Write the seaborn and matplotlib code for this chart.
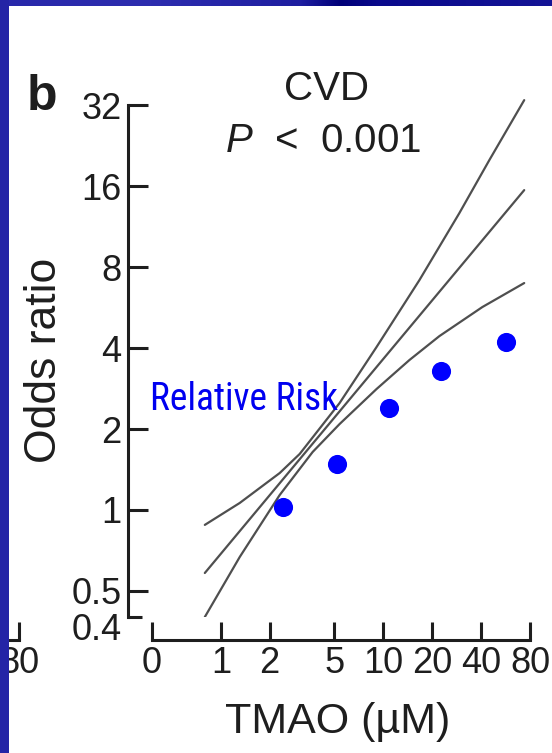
import numpy as np
import pandas as pd
import matplotlib
matplotlib.use("Agg")
import matplotlib.pyplot as plt
import matplotlib.transforms as mtransforms
from matplotlib import font_manager as fm
from matplotlib.ticker import NullLocator
import seaborn as sns

# ---- data -------------------------------------------------------------
# relative risk by TMAO level (uM)
rr_tmao = [2.4, 5.2, 10.9, 22.5, 57.0]
rr_value = [1.03, 1.48, 2.39, 3.29, 4.21]

# fitted odds ratio with upper / lower confidence limits
fit_tmao = [0.797, 9.09, 73.7]
fit_or = [0.583, 3.40, 15.46]

upper_tmao = [0.797, 1.308, 2.304, 3.057, 5.384, 9.087, 16.70, 29.4, 44.94, 73.7]
upper_or = [0.880, 1.062, 1.372, 1.615, 2.498, 4.034, 7.16, 12.70, 19.98, 33.4]

lower_tmao = [0.797, 1.308, 2.304, 3.675, 5.384, 9.087, 14.49, 22.15, 40.7, 73.7]
lower_or = [0.400, 0.669, 1.137, 1.643, 2.087, 2.816, 3.61, 4.43, 5.68, 6.977]

y_ticks = [0.5, 1, 2, 4, 8, 16, 32]
y_tick_labels = ["0.5", "1", "2", "4", "8", "16", "32"]
x_ticks = [1, 2, 5, 10, 20, 40, 80]
x_tick_labels = ["1", "2", "5", "10", "20", "40", "80"]
x_break = 0.377          # axis break drawn as "0"

# ---- figure -----------------------------------------------------------
W, H = 552, 753
sns.set_theme(style="ticks")
plt.rcParams["font.family"] = ["Liberation Sans", "DejaVu Sans"]
plt.rcParams["mathtext.fontset"] = "custom"
plt.rcParams["mathtext.it"] = "Liberation Sans:italic"
plt.rcParams["mathtext.rm"] = "Liberation Sans"
ink = "#1e1e1e"

fig = plt.figure(figsize=(W / 100, H / 100), dpi=100)
fig.patch.set_facecolor("white")


def px(x, y):
    return x / W, 1 - y / H


ax = fig.add_axes([152 / W, 1 - 617 / H, (530 - 152) / W, (617 - 95) / H])
ax.set_xscale("log")
ax.set_yscale("log")

curves = pd.concat([
    pd.DataFrame({"tmao": upper_tmao, "odds": upper_or, "curve": "upper"}),
    pd.DataFrame({"tmao": fit_tmao, "odds": fit_or, "curve": "fit"}),
    pd.DataFrame({"tmao": lower_tmao, "odds": lower_or, "curve": "lower"}),
])
sns.lineplot(data=curves, x="tmao", y="odds", units="curve", estimator=None,
             color="#4f4f4f", linewidth=1.6, ax=ax, legend=False)

rr = pd.DataFrame({"tmao": rr_tmao, "risk": rr_value})
sns.scatterplot(data=rr, x="tmao", y="risk", color="#0000ff", s=190,
                linewidth=0, ax=ax, zorder=5, legend=False)

ax.set_xlim(x_break, 80)
ax.set_ylim(0.4, 34.9)
ax.set_xlabel("")
ax.set_ylabel("")

for side in ("top", "right"):
    ax.spines[side].set_visible(False)
ax.spines["left"].set_position(("outward", 17.3))
ax.spines["bottom"].set_position(("outward", 16.6))
ax.spines["left"].set_bounds(0.4, 32)
for side in ("left", "bottom"):
    ax.spines[side].set_linewidth(2.2)
    ax.spines[side].set_color(ink)

ax.set_yticks(y_ticks, labels=y_tick_labels)
ax.set_yticks([0.4], labels=["0.4"], minor=True)
ax.set_xticks([x_break] + x_ticks, labels=["0"] + x_tick_labels)
ax.xaxis.set_minor_locator(NullLocator())

ax.tick_params(axis="y", which="major", direction="in", length=14.4, width=2.2,
               color=ink, labelsize=26, labelcolor=ink, pad=4.5)
ax.tick_params(axis="y", which="minor", direction="in", length=10, width=2.2,
               color=ink, labelsize=26, labelcolor=ink, pad=4.5)
ax.tick_params(axis="x", which="major", direction="in", length=13, width=2.2,
               color=ink, labelsize=26, labelcolor=ink, pad=4)
shift = mtransforms.ScaledTranslation(0, -0.09, fig.dpi_scale_trans)
for lab in ax.yaxis.get_minorticklabels():
    lab.set_transform(lab.get_transform() + shift)
ax.patch.set_alpha(0)

# tail of the neighbouring panel's axis
ax_prev = fig.add_axes([-40 / W, 1 - 640 / H, 59 / W, 20 / H])
ax_prev.set_xlim(60, 80)
ax_prev.set_yticks([])
for side in ("top", "right", "left"):
    ax_prev.spines[side].set_visible(False)
ax_prev.spines["bottom"].set_linewidth(2.2)
ax_prev.spines["bottom"].set_color(ink)
ax_prev.set_xticks([80], labels=["80"])
ax_prev.tick_params(axis="x", direction="in", length=13, width=2.2, color=ink,
                    labelsize=26, labelcolor=ink, pad=4)
ax_prev.patch.set_alpha(0)

# texts
fig.text(*px(327, 100), "CVD", ha="center", va="baseline", fontsize=29, color=ink)
fig.text(*px(323, 152), "$\\it{P}$  <  0.001", ha="center",
         va="baseline", fontsize=29, color=ink)
fig.text(*px(27, 110), "b", ha="left", va="baseline", fontsize=36,
         fontweight="bold", color=ink)
fig.text(*px(45, 360), "Odds ratio", rotation=90, ha="center", va="center",
         fontsize=32, color=ink)
fig.text(*px(338, 733), "TMAO (µM)", ha="center", va="baseline",
         fontsize=31, color=ink)


# narrow face for the annotation, whichever is installed
def narrow_face():
    for fam, stretch in [("Liberation Sans Narrow", "normal"),
                         ("Arial Narrow", "normal"),
                         ("Roboto Condensed", "normal"),
                         ("Open Sans Condensed", "normal"),
                         ("DejaVu Sans", "condensed")]:
        try:
            path = fm.findfont(fm.FontProperties(family=fam, stretch=stretch),
                               fallback_to_default=False)
        except Exception:
            continue
        name = path.lower()
        if "narrow" in name or "condensed" in name:
            return fm.FontProperties(fname=path)
    return fm.FontProperties(family="Liberation Sans")


rr_label = fig.text(*px(150, 410), "Relative Risk", ha="left", va="baseline",
                    fontproperties=narrow_face(), fontsize=27, color="#0000f0")
renderer = fig.canvas.get_renderer()
label_w = rr_label.get_window_extent(renderer=renderer).width
if label_w > 192:
    rr_label.set_fontsize(27 * 188 / label_w)

# slide frame around the panel
top_x = [0, 150, 300, 340, 380, 552]
top_r = [40, 45, 30, 0, 10, 20]
top_b = [170, 175, 160, 120, 140, 150]
cols = np.arange(W)
r = np.interp(cols, top_x, top_r)
b = np.interp(cols, top_x, top_b)
strip = np.zeros((6, W, 3), dtype=np.uint8)
strip[:, :, 0] = r[None, :]
strip[:, :, 1] = r[None, :]
strip[:, :, 2] = b[None, :]
fig.figimage(strip, xo=0, yo=H - 6, zorder=100)
side = np.zeros((H, 9, 3), dtype=np.uint8)
side[:, :, 0] = 36
side[:, :, 1] = 36
side[:, :, 2] = 166
fig.figimage(side, xo=0, yo=0, zorder=100)

fig.savefig("out.png", dpi=100)
